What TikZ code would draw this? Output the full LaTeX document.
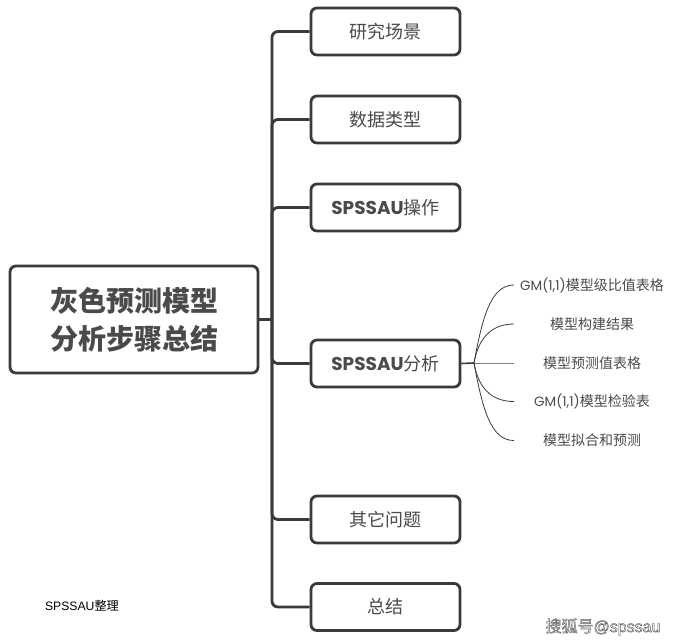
\documentclass[tikz,border=0pt]{standalone}
\usepackage{fontspec}
\setmainfont{Noto Sans CJK SC}
\newfontfamily\latinfont{Poppins}
\newfontfamily\notefont{Liberation Sans}
\definecolor{linegray}{HTML}{3A3A3A}
\definecolor{textgray}{HTML}{4A4A4A}
\newcommand{\outlined}[1]{\special{pdf:code q 2 Tr 0.45 w 0.35 G 1 g}#1\special{pdf:code Q}}
\tikzset{
  box/.style={draw=linegray,line width=2.8pt,rounded corners=6pt,fill=white,text=textgray,
    minimum width=149pt,minimum height=47pt,inner sep=0pt,font=\fontsize{18}{20}\selectfont},
  rootbox/.style={box,minimum width=248pt,minimum height=107pt,align=center,
    font=\fontsize{28}{38}\selectfont\bfseries},
  leaf/.style={text=textgray,text width=156pt,align=center,inner sep=0pt,font=\fontsize{14}{16}\selectfont},
  branch/.style={draw=linegray,line width=2.8pt,rounded corners=6pt},
  twig/.style={draw=linegray,line width=0.8pt}
}
\begin{document}
\begin{tikzpicture}[x=1pt,y=-1pt]
  \useasboundingbox (0,0) rectangle (674,643);

  \node[rootbox] (root) at (134,319.5) {灰色预测模型\\分析步骤总结};

  \node[box] (scene) at (385.5,31.5) {研究场景};
  \node[box] (data) at (385.5,119.5) {数据类型};
  \node[box] (oper) at (385.5,207.5) {{\latinfont\bfseries\fontsize{18.5}{20}\selectfont SPSSAU}操作};
  \node[box] (ana) at (385.5,363.5) {{\latinfont\bfseries\fontsize{18.5}{20}\selectfont SPSSAU}分析};
  \node[box] (other) at (385.5,519.5) {其它问题};
  \node[box] (sum) at (385.5,607) {总结};

  \node[leaf] (ratio) at (592,285) {{\latinfont\fontsize{13.5}{16}\selectfont GM(1,1)}模型级比值表格};
  \node[leaf] (build) at (592,324) {模型构建结果};
  \node[leaf] (pred) at (592,363) {模型预测值表格};
  \node[leaf] (test) at (592,401.5) {{\latinfont\fontsize{13.5}{16}\selectfont GM(1,1)}模型检验表};
  \node[leaf] (fit) at (592,440.5) {模型拟合和预测};

  \node[font=\notefont\fontsize{12.2}{14}\selectfont,text=black,inner sep=0pt] (note) at (82,606) {SPSSAU\hspace{0pt}{\rmfamily\fontsize{12.2}{14}\selectfont 整理}};
  \node[inner sep=0pt,font=\fontsize{16}{18}\selectfont] (mark) at (603,627) {\outlined{搜狐号{\notefont @spssau}}};

  % trunk and branches
  \coordinate (trunk) at (272,319.5);
  \draw[branch] (root.east) -- (trunk);
  \draw[branch] (scene.west) -| (trunk) |- (sum.west);
  \draw[branch] (trunk) |- (data.west);
  \draw[branch] (trunk) |- (oper.west);
  \draw[branch] (trunk) |- (ana.west);
  \draw[branch] (trunk) |- (other.west);

  % curved twigs
  \coordinate (fork) at (474,363);
  \draw[branch,line width=1.6pt] (ana.east) -- (fork);
  \draw[twig] (fork) .. controls (482,320) and (490,285) .. (ratio.west);
  \draw[twig] (fork) .. controls (478,340) and (490,324) .. (build.west);
  \draw[twig,line width=1pt,draw=gray] (fork) -- (pred.west);
  \draw[twig] (fork) .. controls (478,386) and (490,401.5) .. (test.west);
  \draw[twig] (fork) .. controls (482,406) and (490,440.5) .. (fit.west);
\end{tikzpicture}
\end{document}
